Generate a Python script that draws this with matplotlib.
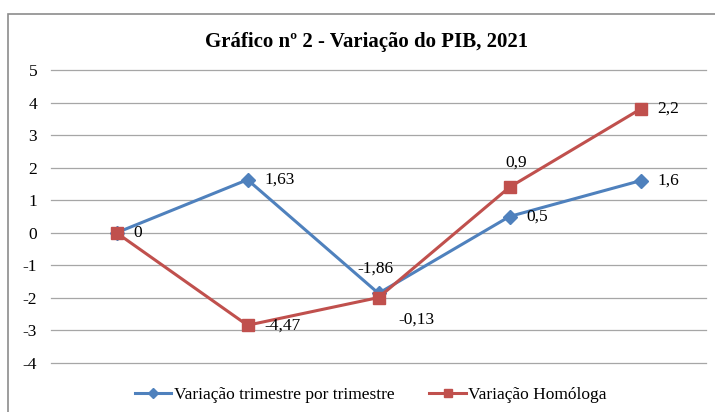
import matplotlib
matplotlib.use("Agg")
import matplotlib.pyplot as plt
import numpy as np
from matplotlib.patches import Rectangle

title = "Gráfico nº 2 - Variação do PIB, 2021"
series1_name = "Variação trimestre por trimestre"
series2_name = "Variação Homóloga"
categories = ["1", "2", "3", "4", "5"]
trimestral = [0, 1.63, -1.86, 0.5, 1.6]
homologa = [0, -4.47, -0.13, 0.9, 2.2]
yticks = [-4, -3, -2, -1, 0, 1, 2, 3, 4, 5]

def fmt(v):
    s = ("%g" % v).replace(".", ",")
    return s

plt.rcParams['font.family'] = ['Liberation Serif', 'DejaVu Serif']

fig = plt.figure(figsize=(7.15, 4.12), dpi=100)
fig.patches.append(Rectangle((8/715, -0.1), 1.2, 1 - 14/412 + 0.1, transform=fig.transFigure,
                             fill=False, edgecolor='#8c8c8c', linewidth=1.2))
ax = fig.add_axes([51/715, 1 - 363/412, 655/715, 293/412])

x = np.arange(len(categories))
s1 = np.array(trimestral)
s2 = s1 + np.array(homologa)  # stacked line chart

blue = '#4F81BD'
red = '#C0504D'
ax.plot(x, s1, color=blue, lw=2.2, marker='D', markersize=7, label=series1_name, zorder=3)
ax.plot(x, s2, color=red, lw=2.2, marker='s', markersize=8, label=series2_name, zorder=3)

ax.set_xlim(-0.5, len(categories) - 0.5)
ax.set_ylim(-4, 5)
ax.set_yticks(yticks)
ax.set_yticklabels([str(t) for t in yticks], fontsize=12.5)
ax.set_xticks([])
ax.tick_params(axis='y', length=0, pad=10)
for sp in ax.spines.values():
    sp.set_visible(False)
ax.grid(axis='y', color='#a6a6a6', linewidth=0.9)
for gl in ax.get_ygridlines():
    gl.set_clip_on(False)
ax.set_axisbelow(True)

# data labels
off1 = [(12, 0, 'left', 'center'), (12, 0, 'left', 'center'), (-2, 12, 'center', 'bottom'),
        (12, 0, 'left', 'center'), (12, 0, 'left', 'center')]
off2 = [(12, 0, 'left', 'center'), (12, 0, 'left', 'center'), (14, -10, 'left', 'top'),
        (5, 12, 'center', 'bottom'), (12, 0, 'left', 'center')]
for i in range(len(categories)):
    dx, dy, ha, va = off1[i]
    if i != 0:
        ax.annotate(fmt(trimestral[i]), (x[i], s1[i]), xytext=(dx, dy), textcoords='offset points',
                    ha=ha, va=va, fontsize=12.5)
    dx, dy, ha, va = off2[i]
    ax.annotate(fmt(homologa[i]), (x[i], s2[i]), xytext=(dx, dy), textcoords='offset points',
                ha=ha, va=va, fontsize=12.5)

fig.text(367/715, 1 - 42/412, title, ha='center', va='center', fontsize=15, fontweight='bold')

fig.legend(loc='center', bbox_to_anchor=(371/715, 1 - 395/412), ncol=2, frameon=False,
           fontsize=12.5, handlelength=2.1, columnspacing=2.0, handletextpad=0.15,
           markerscale=0.8)

fig.savefig('out.png', dpi=100)
